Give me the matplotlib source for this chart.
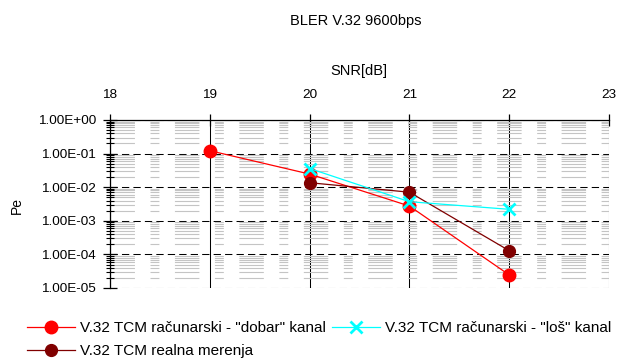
import matplotlib
matplotlib.use("Agg")
import matplotlib.pyplot as plt
from matplotlib.ticker import LogLocator, FuncFormatter, NullFormatter

plt.rcParams['font.family'] = ['Liberation Sans', 'DejaVu Sans']

snr = [19, 20, 21, 22]
dobar = [0.122, 0.0246, 0.00275, 2.45e-5]
snr_los = [20, 21, 22]
los = [0.036, 0.0037, 0.0022]
snr_real = [20, 21, 22]
real = [0.0136, 0.0071, 1.29e-4]

x_ticks = [18, 19, 20, 21, 22, 23]
labels = ['V.32 TCM računarski - "dobar" kanal',
          'V.32 TCM računarski - "loš" kanal',
          'V.32 TCM realna merenja']

fig = plt.figure(figsize=(6.18, 3.58), dpi=100)
ax = fig.add_axes([110/618, 1-288/358, 499/618, 168/358])

ax.set_yscale('log')
ax.set_ylim(1e-5, 1)
ax.set_xlim(18, 23)
ax.xaxis.tick_top()
ax.xaxis.set_label_position('top')
ax.set_xticks(x_ticks)
ax.yaxis.set_major_locator(LogLocator(base=10, numticks=10))
ax.yaxis.set_minor_locator(LogLocator(base=10, subs=range(2, 10), numticks=20))
ax.yaxis.set_major_formatter(FuncFormatter(lambda v, p: f"{v:.2E}"))
ax.yaxis.set_minor_formatter(NullFormatter())

for s in ['right', 'bottom']:
    ax.spines[s].set_visible(False)
for s in ['left', 'top']:
    ax.spines[s].set_linewidth(0.9)
    ax.spines[s].set_color('black')

ax.tick_params(axis='y', which='major', direction='inout', length=10, width=0.9, pad=5, labelsize=9.7)
ax.tick_params(axis='y', which='minor', direction='inout', length=6, width=0.8)
ax.tick_params(axis='x', which='major', direction='inout', length=8, width=0.9, pad=10, labelsize=9.7)

ax.grid(which='minor', axis='y', color='#c4c4c4', lw=0.8, ls=(0, (22, 14, 8, 14)), zorder=0)
ax.grid(which='major', axis='y', color='black', lw=0.75, ls=(0, (7, 4)), zorder=1)
ax.grid(which='major', axis='x', color='black', lw=0.75, ls='-', zorder=1)
ax.set_axisbelow(True)

ax.set_xlabel('SNR[dB]', fontsize=10.5)
ax.xaxis.label.set_va('center')
ax.xaxis.set_label_coords((358.5-110)/499, (288-71)/168)
ax.set_ylabel('Pe', fontsize=10)
ax.yaxis.label.set_va('center')
ax.yaxis.set_label_coords((17-110)/499, (288-205)/168)

l1, = ax.plot(snr, dobar, color='#ff0000', lw=0.9, marker='o', ms=9, zorder=3, clip_on=False)
l2, = ax.plot(snr_los, los, color='#00ffff', lw=0.9, marker='x', ms=9, mew=2, zorder=4, clip_on=False)
l3, = ax.plot(snr_real, real, color='#800000', lw=0.9, marker='o', ms=8.5, zorder=3, clip_on=False)

fig.text(356/618, 1-21/358, 'BLER V.32 9600bps', ha='center', va='center', fontsize=10.5)

fig.legend([l1, l3, l2], [labels[0], labels[2], labels[1]], loc='upper left',
           bbox_to_anchor=(27/618, 1-321/358),
           ncol=2, frameon=False, fontsize=11, handlelength=3.15, handletextpad=0.33,
           columnspacing=0.4, labelspacing=0.62, borderaxespad=0, borderpad=0)

fig.savefig('out.png', dpi=100)
